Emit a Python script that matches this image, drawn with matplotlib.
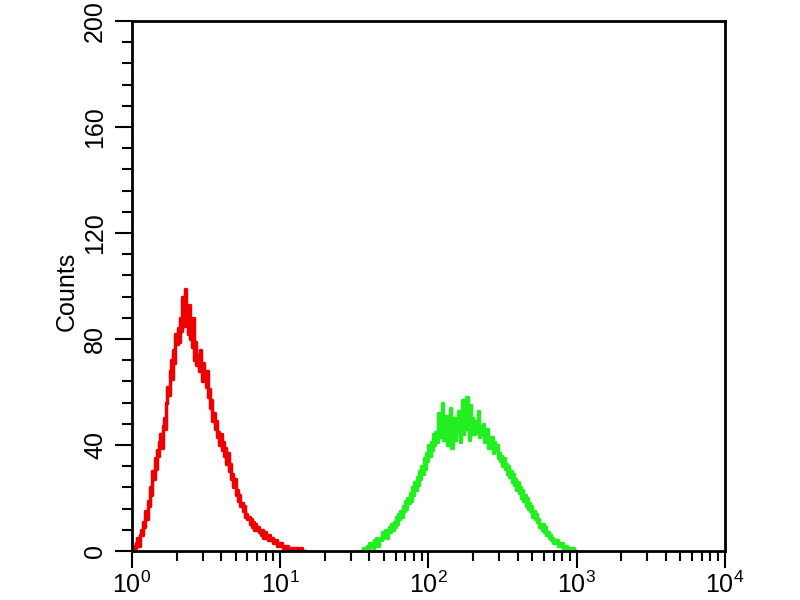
import numpy as np
import matplotlib as mpl
mpl.use('Agg')
import matplotlib.pyplot as plt
from matplotlib.ticker import MultipleLocator, LogLocator, NullFormatter

plt.rcParams['font.family'] = ['Liberation Sans', 'DejaVu Sans']
plt.rcParams['mathtext.fontset'] = 'custom'
plt.rcParams['mathtext.rm'] = 'Liberation Sans'

# channels: 128 per decade on a log axis
red_start = 0.0
red_counts = [
    0, 1, 2, 1, 3, 5, 2, 6, 8, 6, 11, 9, 15, 12, 19, 17,
    24, 21, 30, 27, 35, 31, 38, 36, 41, 44, 39, 47, 50, 46, 56, 62,
    59, 68, 72, 65, 76, 71, 82, 78, 84, 79, 88, 83, 96, 85, 99, 87,
    90, 82, 93, 80, 77, 88, 72, 79, 70, 74, 68, 76, 69, 64, 71, 66,
    62, 68, 58, 61, 54, 57, 49, 52, 46, 49, 43, 45, 40, 44, 38, 41,
    36, 39, 33, 37, 30, 33, 27, 29, 24, 27, 21, 23, 19, 21, 17, 18,
    15, 17, 13, 14, 12, 13, 10, 12, 9, 11, 8, 10, 8, 9, 7, 8,
    6, 8, 5, 7, 5, 6, 4, 6, 4, 5, 3, 4, 3, 4, 2, 3,
    2, 3, 2, 1, 2, 1, 2, 1, 1, 0, 1, 1, 0, 1, 0, 1,
    0, 0, 1, 0, 0, 0,
]

green_start = 1.55
green_counts = [
    0, 0, 1, 0, 1, 2, 0, 3, 2, 3, 1, 4, 3, 5, 2, 4,
    5, 4, 7, 5, 6, 8, 5, 7, 9, 7, 10, 8, 11, 9, 13, 10,
    14, 12, 15, 13, 17, 15, 19, 16, 20, 18, 22, 19, 24, 21, 26, 23,
    28, 25, 30, 27, 32, 29, 35, 31, 37, 34, 40, 36, 41, 38, 44, 40,
    45, 41, 52, 43, 48, 44, 56, 42, 47, 51, 40, 49, 44, 54, 39, 47,
    50, 42, 48, 45, 53, 41, 47, 57, 44, 50, 46, 58, 47, 42, 55, 48,
    50, 44, 49, 45, 46, 53, 43, 47, 44, 48, 41, 45, 42, 46, 39, 43,
    40, 43, 37, 41, 38, 40, 35, 37, 34, 36, 32, 35, 31, 33, 29, 32,
    28, 30, 26, 29, 25, 27, 23, 26, 22, 24, 20, 23, 19, 21, 17, 20,
    16, 18, 15, 17, 13, 15, 12, 14, 11, 12, 9, 10, 8, 10, 7, 9,
    6, 7, 5, 6, 4, 5, 3, 4, 3, 4, 2, 3, 2, 3, 1, 2,
    1, 2, 1, 1, 0, 1, 0, 1, 0, 0,
]

x_ticks = [1, 10, 100, 1000, 10000]
x_labels = [r'$\mathregular{10^{0}}$', r'$\mathregular{10^{1}}$', r'$\mathregular{10^{2}}$',
            r'$\mathregular{10^{3}}$', r'$\mathregular{10^{4}}$']
y_ticks = [0, 40, 80, 120, 160, 200]

def channels(start, n):
    return 10 ** (start + np.arange(n) / 128.0)

fig = plt.figure(figsize=(8, 6), dpi=100)
ax = fig.add_axes([0.165, 0.0817, 0.741, 0.8833])

ax.step(channels(red_start, len(red_counts)), red_counts, where='mid',
        color='#ee0000', lw=2.5)
ax.step(channels(green_start, len(green_counts)), green_counts, where='mid',
        color='#22ee22', lw=2.5)

ax.set_xscale('log')
ax.set_xlim(1, 10000)
ax.set_ylim(0, 200)
ax.set_xticks(x_ticks)
ax.set_xticklabels(x_labels, fontsize=18)
ax.xaxis.set_minor_locator(LogLocator(base=10, subs=np.arange(2, 10)))
ax.xaxis.set_minor_formatter(NullFormatter())
ax.set_yticks(y_ticks)
ax.set_yticklabels([str(v) for v in y_ticks], fontsize=18, rotation=90, va='center')
ax.yaxis.set_minor_locator(MultipleLocator(8))

for s in ax.spines.values():
    s.set_linewidth(2)
ax.tick_params(which='major', direction='out', length=12, width=1.5, top=False, right=False)
ax.tick_params(which='minor', direction='out', length=7, width=1.5, top=False, right=False)
ax.tick_params(axis='x', pad=3)
ax.tick_params(axis='y', pad=6)

ax.set_ylabel('Counts', fontsize=18)
ax.yaxis.set_label_coords(-0.09, 0.49)

fig.savefig('out.png', dpi=100)
